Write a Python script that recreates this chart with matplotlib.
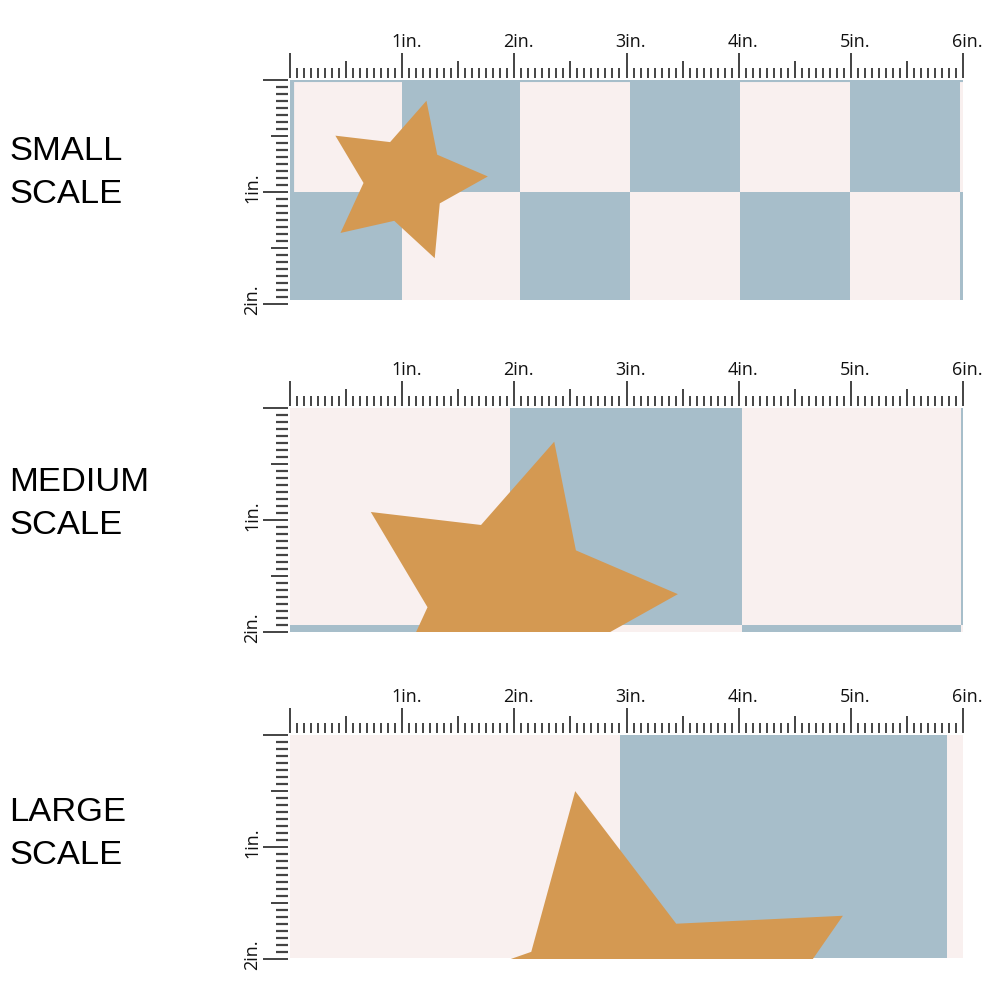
import numpy as np
import matplotlib
matplotlib.use('Agg')
import matplotlib.pyplot as plt
from matplotlib.colors import ListedColormap

# colores da estampa
PINK = '#F9F0EF'
BLUE = '#A7BECA'
GOLD = '#D49952'
INK = '#2b2b2b'

# rótulos
scale_names = ['SMALL', 'MEDIUM', 'LARGE']
top_labels = ['1in.', '2in.', '3in.', '4in.', '5in.', '6in.']
left_labels = ['1in.', '2in.']

# xadrez de cada escala (bordas em polegadas, 0 = rosa, 1 = azul)
small_x = [0, 1.0, 2.05, 3.03, 4.01, 4.99, 5.97, 6.0]
small_y = [0, 1.0, 1.96]
small_tiles = [[0, 1, 0, 1, 0, 1, 0],
               [1, 0, 1, 0, 1, 0, 1]]

medium_x = [0, 1.96, 4.03, 5.98, 6.0]
medium_y = [0, 1.94, 2.0]
medium_tiles = [[0, 1, 0, 1],
                [1, 0, 1, 0]]

large_x = [0, 2.94, 5.86, 6.0]
large_y = [0, 1.99]
large_tiles = [[0, 1, 0]]

# estrela: centro, raio e ângulo da ponta de cima
star_cx = [1.025, 1.97, 2.97]
star_cy = [0.90, 1.74, 2.70]
star_r = [0.74, 1.49, 2.24]
star_tip = [75, 75, 101]
star_inner = 0.5

panels = [(small_x, small_y, small_tiles),
          (medium_x, medium_y, medium_tiles),
          (large_x, large_y, large_tiles)]

fig = plt.figure(figsize=(10, 10), dpi=100)
fig.patch.set_facecolor('white')

cmap = ListedColormap([PINK, BLUE])
px_in = 112.0  # pixels por polegada
panel_top = [80, 408, 735]


def estrela(cx, cy, r, tip):
    ang = np.radians(tip + np.arange(10) * 36)
    rr = np.where(np.arange(10) % 2 == 0, r, r * star_inner)
    return cx + rr * np.cos(ang), cy - rr * np.sin(ang)


for i, (xe, ye, tiles) in enumerate(panels):
    top = panel_top[i]
    ax = fig.add_axes([0.29, 1 - (top + 2 * px_in) / 1000, 0.673, 2 * px_in / 1000])
    ax.set_xlim(0, 6)
    ax.set_ylim(2, 0)
    ax.axis('off')

    ax.pcolormesh(xe, ye, np.array(tiles), cmap=cmap, vmin=0, vmax=1, zorder=1)
    if i == 0:
        ax.plot([0, 6], [0.01, 0.01], color=BLUE, lw=1.5, zorder=2)
        ax.plot([0.02, 0.02], [0, 1.0], color=BLUE, lw=3, zorder=2)

    sx, sy = estrela(star_cx[i], star_cy[i], star_r[i], star_tip[i])
    ax.fill(sx, sy, color=GOLD, lw=0, zorder=3)

    gap = 2 / px_in
    # régua de cima
    for k in range(6 * 16 + 1):
        if k % 16 == 0:
            L, cor, w = 25, '#111111', 1.1
        elif k % 8 == 0:
            L, cor, w = 17, '#222222', 1.2
        else:
            L, cor, w = 10, '#444444', 1.4
        ax.plot([k / 16, k / 16], [-gap, -gap - L / px_in], color=cor,
                lw=w, clip_on=False, solid_capstyle='butt')
    for n, lab in enumerate(top_labels):
        ax.text(n + 1 - 11 / px_in, -33 / px_in, lab, ha='left', va='baseline',
                fontsize=13, family='Open Sans', color='#111111')

    # régua da esquerda
    for k in range(2 * 16 + 1):
        if k % 16 == 0:
            L, cor, w = 25, '#111111', 1.1
        elif k % 8 == 0:
            L, cor, w = 17, '#222222', 1.2
        else:
            L, cor, w = 12, '#444444', 1.6
        ax.plot([-gap, -gap - L / px_in], [k / 16, k / 16], color=cor,
                lw=w, clip_on=False, solid_capstyle='butt')
    for n, lab in enumerate(left_labels):
        ax.text(-38 / px_in, n + 1 + 11 / px_in, lab, ha='center', va='bottom',
                rotation=90, fontsize=13, family='Open Sans', color='#111111')

# nomes das escalas
name_base = [160, 491, 821]
for i, nome in enumerate(scale_names):
    fig.text(0.009, 1 - name_base[i] / 1000, nome, fontsize=24.8,
             family='Liberation Sans', va='baseline', ha='left', color='black')
    fig.text(0.009, 1 - (name_base[i] + 43) / 1000, 'SCALE', fontsize=24.8,
             family='Liberation Sans', va='baseline', ha='left', color='black')

fig.savefig('out.png', dpi=100, facecolor='white')
